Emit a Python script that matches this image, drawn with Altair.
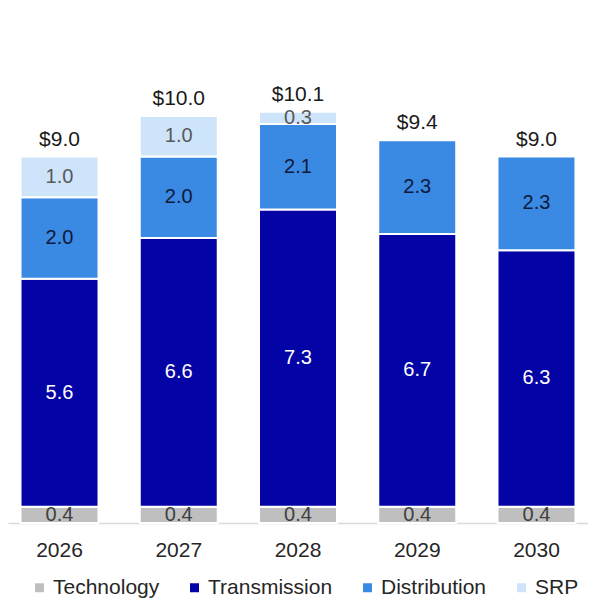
import altair as alt
import pandas as pd

FONT = "Liberation Sans"

years = ["2026", "2027", "2028", "2029", "2030"]
series = ["Technology", "Transmission", "Distribution", "SRP"]
technology = [0.4, 0.4, 0.4, 0.4, 0.4]
transmission = [5.6, 6.6, 7.3, 6.7, 6.3]
distribution = [2.0, 2.0, 2.1, 2.3, 2.3]
srp = [1.0, 1.0, 0.3, 0.0, 0.0]

bar_colors = ["#BFBFBF", "#0404A6", "#3A89E3", "#CDE4FA"]
label_colors = ["#404040", "#FFFFFF", "#0E1A3A", "#595959"]

rows = []
for i, yr in enumerate(years):
    for k, vals in enumerate([technology, transmission, distribution, srp]):
        if vals[i] > 0:
            rows.append({"year": yr, "series": series[k], "ord": k, "value": vals[i]})
df = pd.DataFrame(rows)

yscale = alt.Scale(domain=[0, 12.65], nice=False, zero=True)
x_enc = alt.X(
    "year:N",
    title=None,
    sort=years,
    scale=alt.Scale(paddingInner=0.346, paddingOuter=0.105),
    axis=alt.Axis(
        labelAngle=0, ticks=False, tickSize=0, labelFontSize=21, labelFont=FONT,
        labelColor="#262626", labelPadding=16, domainColor="#D9D9D9",
        domainWidth=1.5, grid=False,
    ),
)

base = alt.Chart(df)

bars = base.mark_bar(stroke="white", strokeWidth=2).encode(
    x=x_enc,
    y=alt.Y("value:Q", stack="zero", scale=yscale, axis=None),
    color=alt.Color(
        "series:N",
        sort=series,
        scale=alt.Scale(domain=series, range=bar_colors),
        legend=alt.Legend(
            title=None, orient="none", legendX=21, legendY=569,
            direction="horizontal", symbolType="square", symbolSize=81,
            symbolStrokeWidth=0, labelFontSize=21, labelFont=FONT,
            labelColor="#262626", columnPadding=24, labelOffset=3, padding=0,
        ),
    ),
    order=alt.Order("ord:Q", sort="ascending"),
)

seg = (
    base.transform_stack(
        stack="value", groupby=["year"], as_=["y0", "y1"],
        sort=[alt.SortField("ord", order="ascending")],
    )
    .transform_calculate(mid="(datum.y0 + datum.y1) / 2")
    .mark_text(fontSize=20, font=FONT, baseline="middle")
    .encode(
        x=x_enc,
        y=alt.Y("mid:Q", scale=yscale, axis=None),
        text=alt.Text("value:Q", format=".1f"),
        color=alt.Color(
            "series:N", scale=alt.Scale(domain=series, range=label_colors), legend=None
        ),
    )
)

tot = (
    base.transform_aggregate(total="sum(value)", groupby=["year"])
    .transform_calculate(lbl="'$' + format(datum.total, '.1f')")
    .mark_text(fontSize=21, font=FONT, baseline="alphabetic", dy=-11, color="#1A1A1A")
    .encode(
        x=x_enc,
        y=alt.Y("total:Q", scale=yscale, axis=None),
        text="lbl:N",
    )
)

chart = (
    alt.layer(bars, seg, tot)
    .resolve_scale(color="independent")
    .properties(
        width=580, height=515,
        autosize=alt.AutoSizeParams(type="none"),
        padding={"left": 0, "top": 0, "right": 0, "bottom": 77},
        background="white",
    )
    .configure_view(stroke=None)
)

chart.save("out.html", embed_options={"renderer": "svg", "actions": False})
